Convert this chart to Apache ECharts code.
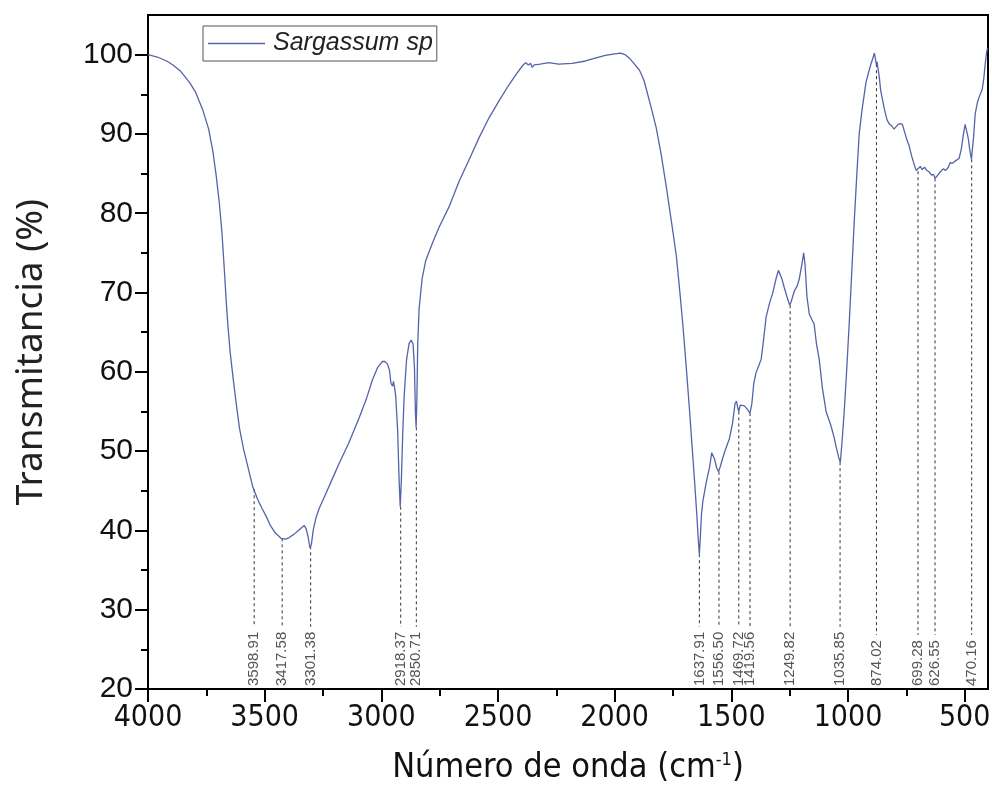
<!DOCTYPE html>
<html>
<head>
<meta charset="utf-8">
<script src="https://cdn.jsdelivr.net/npm/echarts@6/dist/echarts.min.js"></script>
<style>
html,body{margin:0;padding:0;background:#fff;}
#chart{width:992px;height:800px;}
</style>
</head>
<body>
<div id="chart"></div>
<script>
// Spectrum: [wavenumber (cm-1), transmittance (%)]
const spectrum = [
[4000,100.0],[3960,99.7],[3920,99.2],[3893,98.7],[3860,97.9],[3822,96.5],[3795,95.2],[3765,93.0],[3740,90.6],[3722,87.8],
[3708,84.8],[3694,81.2],[3683,77.5],[3672,72.5],[3665,69.0],[3658,66.0],[3648,62.5],[3636,59.4],[3622,56.0],[3608,52.9],
[3590,50.2],[3570,47.8],[3551,45.5],[3530,43.9],[3510,42.7],[3494,41.8],[3475,40.6],[3455,39.7],[3430,39.0],[3410,38.9],
[3395,39.1],[3375,39.5],[3355,40.0],[3340,40.4],[3330,40.6],[3322,40.2],[3314,39.2],[3306,37.8],[3300,38.2],[3292,40.0],
[3280,41.6],[3266,42.8],[3240,44.5],[3210,46.5],[3180,48.5],[3140,51.0],[3095,54.2],[3065,56.5],[3038,59.0],[3015,60.6],
[2995,61.3],[2985,61.3],[2974,61.0],[2965,60.2],[2959,58.6],[2952,58.2],[2948,58.8],[2943,58.0],[2938,56.8],[2930,52.5],
[2924,46.5],[2919,43.0],[2914,46.5],[2908,52.5],[2902,57.0],[2892,61.5],[2881,63.6],[2872,64.0],[2864,63.5],[2858,60.5],
[2854,55.0],[2851,53.0],[2848,56.0],[2844,63.5],[2838,68.0],[2825,71.8],[2810,74.0],[2780,76.3],[2753,78.2],[2710,80.8],
[2667,84.0],[2620,87.0],[2580,89.6],[2539,92.0],[2495,94.2],[2453,96.2],[2420,97.6],[2395,98.6],[2382,99.0],[2370,98.7],
[2360,98.9],[2354,98.4],[2345,98.7],[2320,98.8],[2282,99.0],[2240,98.8],[2182,98.9],[2125,99.2],[2080,99.6],[2040,99.9],
[2000,100.1],[1975,100.2],[1955,100.0],[1935,99.5],[1915,98.8],[1893,98.0],[1875,96.8],[1864,95.6],[1845,93.5],[1822,90.8],
[1800,87.3],[1779,83.4],[1757,79.0],[1736,74.7],[1722,70.5],[1708,66.0],[1693,60.5],[1679,55.1],[1668,50.5],[1658,46.4],
[1648,42.0],[1641,38.5],[1637,37.0],[1633,39.0],[1628,42.0],[1622,43.7],[1608,46.0],[1593,48.0],[1584,49.8],[1579,50.0],
[1572,49.0],[1563,47.9],[1555,47.4],[1548,48.0],[1530,49.8],[1508,51.6],[1495,53.5],[1484,56.0],[1478,56.3],[1472,55.4],
[1468,55.0],[1462,55.8],[1455,55.6],[1444,55.7],[1432,55.3],[1420,54.8],[1412,56.0],[1404,58.5],[1394,59.9],[1382,60.8],
[1372,61.6],[1362,64.0],[1351,66.9],[1337,68.6],[1323,69.9],[1308,71.8],[1298,72.8],[1290,72.6],[1282,71.6],[1273,70.6],
[1262,69.5],[1250,68.4],[1244,68.8],[1230,70.2],[1218,70.8],[1209,71.7],[1198,73.5],[1190,75.0],[1184,73.5],[1176,69.5],
[1166,67.3],[1155,66.6],[1145,66.0],[1135,63.5],[1123,61.5],[1110,58.0],[1094,55.0],[1080,53.8],[1073,53.2],[1060,51.8],
[1052,50.7],[1040,49.2],[1033,48.6],[1026,51.0],[1016,55.1],[1006,60.0],[995,66.0],[984,72.5],[973,79.1],[962,85.0],
[952,90.0],[940,93.0],[923,96.5],[905,98.5],[893,99.6],[887,100.2],[882,99.4],[878,98.6],[875,99.1],[872,98.4],
[866,97.2],[860,95.5],[852,94.3],[843,93.0],[833,91.8],[824,91.3],[812,91.0],[803,90.6],[795,90.8],[785,91.2],
[776,91.3],[767,91.2],[757,90.2],[748,89.3],[738,88.5],[727,87.2],[717,86.2],[708,85.4],[700,85.3],[690,85.9],
[682,85.5],[672,85.8],[662,85.4],[652,85.2],[642,84.8],[633,84.9],[627,84.4],[618,84.7],[605,85.2],[592,85.6],
[581,85.4],[570,85.8],[562,86.4],[553,86.3],[540,86.6],[524,86.9],[515,88.0],[505,90.0],[498,91.2],[492,91.0],
[485,89.5],[478,88.0],[471,86.8],[467,87.0],[462,89.5],[455,92.5],[446,93.9],[436,94.8],[425,95.6],[418,97.0],
[412,98.8],[406,100.3],[402,100.8]
];

// Peak markers: position on the x axis as drawn, curve value where the dashed line starts, and label text
const peakPositions = [3545, 3425, 3303, 2917, 2850, 1637, 1553, 1468, 1420, 1248, 1034, 878, 700, 627, 470];
const peakValues    = [45.2, 39.0, 38.0, 43.0, 53.0, 37.0, 47.4, 55.0, 54.8, 68.4, 48.6, 98.8, 85.3, 84.4, 86.8];
const peakLabels    = ['3598.91','3417.58','3301.38','2918.37','2850.71','1637.91','1556.50','1469.72','1419.56','1249.82','1035.85','874.02','699.28','626.55','470.16'];

const xMajorTicks = [4000, 3500, 3000, 2500, 2000, 1500, 1000, 500];
const xMinorTicks = [3750, 3250, 2750, 2250, 1750, 1250, 750];
const yMajorTicks = [20, 30, 40, 50, 60, 70, 80, 90, 100];
const yMinorTicks = [25, 35, 45, 55, 65, 75, 85, 95];

const seriesName = 'Sargassum sp';
const xTitle = 'Número de onda (cm{sup|-1})';
const yTitle = 'Transmitancia (%)';

const narrow = "'Liberation Sans Narrow','DejaVu Sans Condensed','Liberation Sans',sans-serif";
const peakFont = "15px 'Liberation Sans', Arial, sans-serif";

const measureCtx = document.createElement('canvas').getContext('2d');
measureCtx.font = peakFont;

const peakData = peakPositions.map((x, i) => [x, peakValues[i]]);

const chart = echarts.init(document.getElementById('chart'), null, {renderer: 'canvas'});

const option = {
  animation: false,
  backgroundColor: '#fff',
  grid: {left: 148, right: 4, top: 15, bottom: 111, containLabel: false, outerBoundsMode: 'none',
    show: true, borderColor: '#000', borderWidth: 2, backgroundColor: 'transparent'},
  legend: {
    data: [seriesName],
    left: 203, top: 26,
    icon: 'rect', itemWidth: 57, itemHeight: 1.5,
    padding: [5, 4, 5, 5],
    borderColor: '#555', borderWidth: 1,
    textStyle: {fontSize: 25, fontStyle: 'italic', fontFamily: "'Liberation Sans', Arial, sans-serif", color: '#222',
      padding: [0, 0, 0, 3]}
  },
  xAxis: [
    {
      type: 'value', inverse: true, min: 400, max: 4000,
      name: xTitle, nameLocation: 'middle', nameGap: 62,
      nameTextStyle: {fontSize: 34, fontFamily: narrow, color: '#111',
        rich: {sup: {fontSize: 18, fontFamily: narrow, color: '#111', padding: [0, 0, 16, 0]}}},
      axisLine: {show: true, lineStyle: {color: '#000', width: 2}},
      axisTick: {show: true, customValues: xMajorTicks, length: 13, lineStyle: {color: '#000', width: 2}},
      axisLabel: {customValues: xMajorTicks, margin: 14, fontSize: 30, fontFamily: narrow, color: '#111',
        formatter: v => String(v)},
      splitLine: {show: false}
    },
    {
      type: 'value', inverse: true, min: 400, max: 4000, position: 'bottom',
      axisLine: {show: false},
      axisTick: {show: true, customValues: xMinorTicks, length: 7, lineStyle: {color: '#000', width: 2}},
      axisLabel: {show: false},
      splitLine: {show: false}
    }
  ],
  yAxis: [
    {
      type: 'value', min: 20, max: 105,
      name: yTitle, nameLocation: 'middle', nameGap: 98,
      nameTextStyle: {fontSize: 37, fontFamily: "'Noto Sans', sans-serif", color: '#222'},
      axisLine: {show: true, lineStyle: {color: '#000', width: 2}},
      axisTick: {show: true, customValues: yMajorTicks, length: 13, lineStyle: {color: '#000', width: 2}},
      axisLabel: {customValues: yMajorTicks, margin: 15, fontSize: 30, fontFamily: "'Liberation Sans', Arial, sans-serif", color: '#111',
        formatter: v => String(v)},
      splitLine: {show: false}
    },
    {
      type: 'value', min: 20, max: 105, position: 'left',
      axisLine: {show: false},
      axisTick: {show: true, customValues: yMinorTicks, length: 7, lineStyle: {color: '#000', width: 2}},
      axisLabel: {show: false},
      splitLine: {show: false}
    }
  ],
  series: [
    {
      name: seriesName, type: 'line', xAxisIndex: 0, yAxisIndex: 0,
      data: spectrum, showSymbol: false, symbol: 'none', smooth: false,
      lineStyle: {color: '#5563a8', width: 1.3},
      itemStyle: {color: '#5563a8'},
      z: 3
    },
    {
      name: 'peaks', type: 'custom', xAxisIndex: 0, yAxisIndex: 0,
      data: peakData, clip: false, z: 2,
      encode: {x: 0, y: 1},
      renderItem: function (params, api) {
        const x = api.value(0), y = api.value(1);
        const p = api.coord([x, y]);
        const base = api.coord([x, 20]);
        const label = peakLabels[params.dataIndex];
        const w = measureCtx.measureText(label).width;
        const textBottom = base[1] - 3;
        return {
          type: 'group',
          children: [
            {type: 'line', shape: {x1: p[0], y1: p[1], x2: p[0], y2: textBottom - w - 5},
              style: {stroke: '#333', lineWidth: 1, lineDash: [3, 3]}},
            {type: 'text', x: p[0], y: textBottom, rotation: Math.PI / 2,
              style: {text: label, font: peakFont, fill: '#555', align: 'left', verticalAlign: 'middle'}}
          ]
        };
      }
    }
  ]
};
chart.setOption(option);
</script>
</body>
</html>
